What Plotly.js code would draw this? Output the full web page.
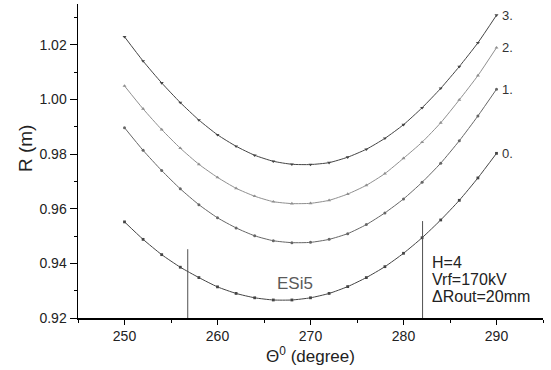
<!DOCTYPE html>
<html>
<head>
<meta charset="utf-8">
<script src="https://cdn.plot.ly/plotly-3.0.1.min.js"></script>
<style>html,body{margin:0;padding:0;background:#fff;}#chart{width:551px;height:370px;}</style>
</head>
<body>
<div id="chart"></div>
<script>
const theta = [250,252,254,256,258,260,262,264,266,268,270,272,274,276,278,280,282,284,286,288,290];
const r0 = [0.9552,0.9488,0.9432,0.9386,0.9348,0.9314,0.9290,0.9274,0.9266,0.9266,0.9274,0.9290,0.9315,0.9348,0.9388,0.9437,0.9494,0.9559,0.9631,0.9713,0.9803];
const r1 = [0.9897,0.9814,0.9740,0.9673,0.9615,0.9567,0.9530,0.9501,0.9483,0.9476,0.9477,0.9488,0.9509,0.9542,0.9585,0.9636,0.9697,0.9767,0.9849,0.9940,1.0038];
const r2 = [1.0050,0.9966,0.9890,0.9822,0.9763,0.9715,0.9675,0.9646,0.9626,0.9619,0.9620,0.9631,0.9654,0.9686,0.9729,0.9785,0.9844,0.9915,0.9999,1.0088,1.0190];
const r3 = [1.0230,1.0141,1.0061,0.9989,0.9925,0.9871,0.9829,0.9796,0.9774,0.9763,0.9762,0.9769,0.9789,0.9818,0.9858,0.9908,0.9970,1.0041,1.0121,1.0208,1.0309];
const seriesLabels = ['0.','1.','2.','3.'];
const cutX = [256.8, 282.05];
const cutTop = [0.9452, 0.9555];
const yTickVals = [0.92,0.94,0.96,0.98,1.00,1.02];
const xTickVals = [250,260,270,280,290];

const FONT = 'Liberation Sans, Arial, sans-serif';
const series = [r0, r1, r2, r3];
const lineColors = ['#444444','#666666','#8f8f8f','#444444'];
const markerSymbols = ['square','circle','triangle-up','triangle-down'];
const markerSizes = [2.8, 3, 3.5, 3.5];

const traces = series.map((ys, i) => ({
  x: theta, y: ys, type: 'scatter', mode: 'lines+markers',
  line: {color: lineColors[i], width: 1, shape: 'spline', smoothing: 0.6},
  marker: {symbol: markerSymbols[i], size: markerSizes[i], color: lineColors[i]},
  hoverinfo: 'skip', showlegend: false
}));
cutX.forEach((cx, i) => {
  traces.push({
    x: [cx, cx], y: [0.92, cutTop[i]], type: 'scatter', mode: 'lines',
    line: {color: '#505050', width: 1}, hoverinfo: 'skip', showlegend: false
  });
});

const annotations = series.map((ys, i) => ({
  x: theta[theta.length-1], y: ys[ys.length-1], xref: 'x', yref: 'y',
  text: seriesLabels[i], showarrow: false, xanchor: 'left', yanchor: 'middle',
  xshift: 3, font: {family: FONT, size: 13, color: '#333'}
}));
annotations.push({x: 268.3, y: 0.9327, xref: 'x', yref: 'y', text: 'ESi5', showarrow: false,
  xanchor: 'center', yanchor: 'middle', font: {family: FONT, size: 17, color: '#5a5a5a'}});
const infoLines = ['H=4', 'Vrf=170kV', 'ΔRout=20mm'];
const infoY = [0.9405, 0.9341, 0.9277];
infoLines.forEach((t, i) => {
  annotations.push({x: 282.8, y: infoY[i], xref: 'x', yref: 'y', text: t, showarrow: false,
    xanchor: 'left', yanchor: 'middle', font: {family: FONT, size: 16, color: '#222'}});
});
// y-axis title as a rotated annotation
annotations.push({x: -0.114, y: 0.541, xref: 'paper', yref: 'paper', text: 'R (m)', showarrow: false,
  textangle: -90, xanchor: 'center', yanchor: 'middle', font: {family: FONT, size: 19, color: '#222'}});

const layout = {
  width: 551, height: 370,
  margin: {l: 78, r: 8, t: 4, b: 52, pad: 0},
  paper_bgcolor: '#fff', plot_bgcolor: '#fff',
  font: {family: FONT, color: '#222'},
  xaxis: {
    range: [245, 295], tickvals: xTickVals, ticktext: xTickVals.map(String),
    ticks: 'outside', ticklen: 5, tickwidth: 1, tickcolor: '#000',
    minor: {dtick: 5, tick0: 245, ticks: 'outside', ticklen: 3, tickcolor: '#000', tickwidth: 1},
    showline: true, linecolor: '#000', linewidth: 1.5, showgrid: false, zeroline: false,
    tickfont: {family: FONT, size: 14, color: '#222'},
    title: {text: 'Θ<sup>0</sup> (degree)', font: {family: FONT, size: 17, color: '#222'}, standoff: 6}
  },
  yaxis: {
    range: [0.92, 1.035], tickvals: yTickVals, ticktext: yTickVals.map(v => v.toFixed(2)),
    ticks: 'outside', ticklen: 7, tickwidth: 1, tickcolor: '#000',
    minor: {dtick: 0.01, tick0: 0.92, ticks: 'outside', ticklen: 3, tickcolor: '#000', tickwidth: 1},
    showline: true, linecolor: '#000', linewidth: 1.5, showgrid: false, zeroline: false,
    tickfont: {family: FONT, size: 14, color: '#222'}
  },
  annotations: annotations,
  showlegend: false
};

Plotly.newPlot('chart', traces, layout, {staticPlot: true, displayModeBar: false});
</script>
</body>
</html>
